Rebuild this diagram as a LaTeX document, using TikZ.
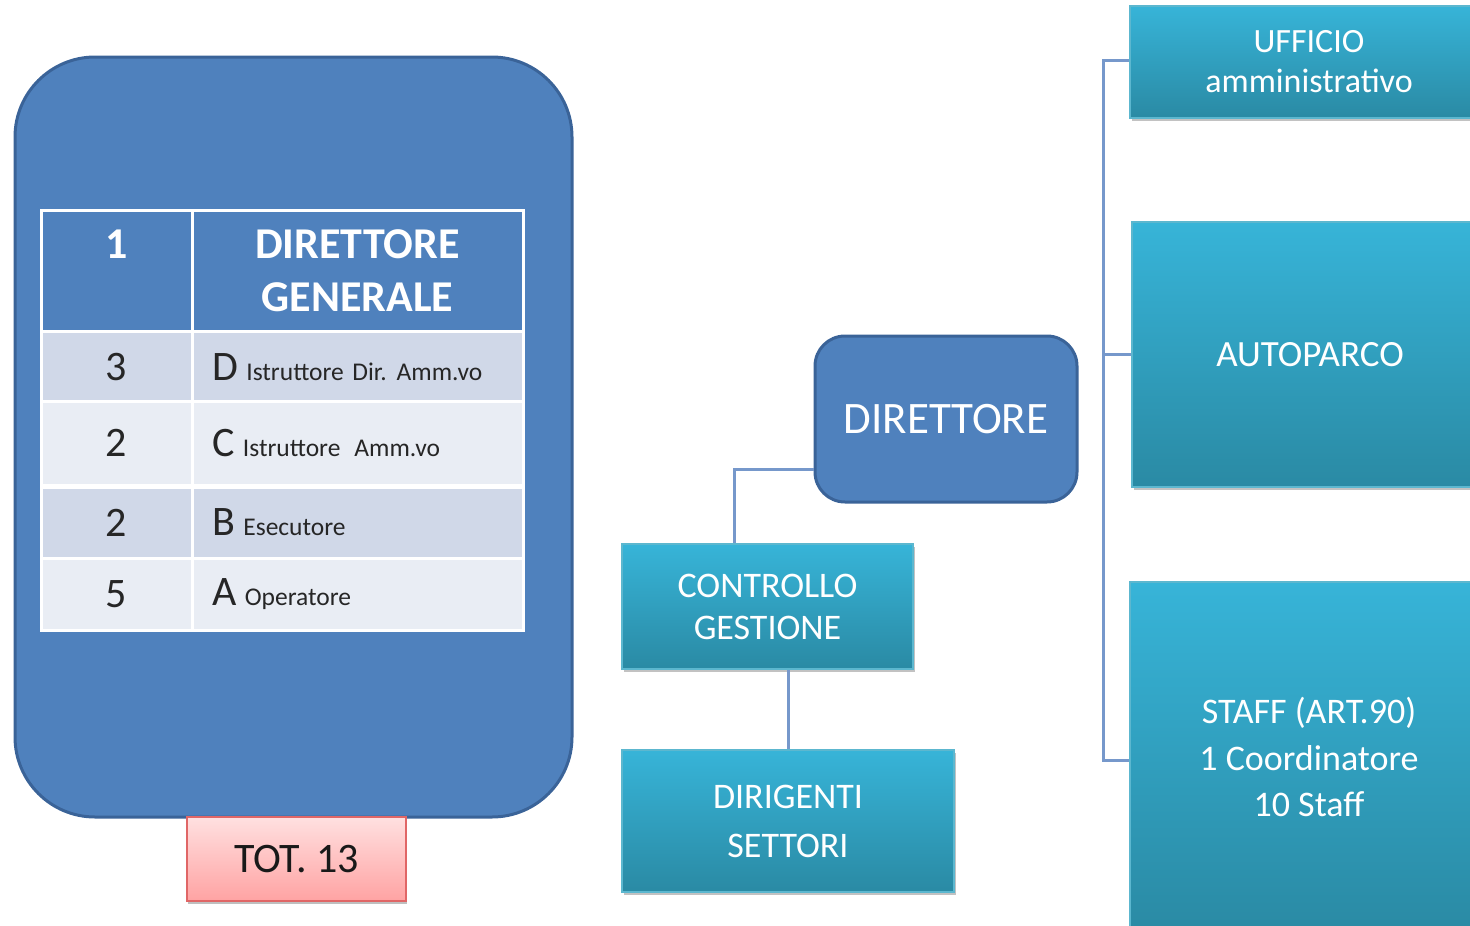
\documentclass[tikz,border=0pt]{standalone}
\usepackage{fontspec}
\setmainfont{Carlito}
\usetikzlibrary{shadows}
\definecolor{dblue}{HTML}{4F81BD}
\definecolor{dborder}{HTML}{3A6398}
\definecolor{rowdark}{HTML}{D0D8E8}
\definecolor{rowlight}{HTML}{E9EDF4}
\definecolor{tealtop}{HTML}{37B4D8}
\definecolor{tealbot}{HTML}{2A8AA4}
\definecolor{tealline}{HTML}{5CB7CF}
\definecolor{conn}{HTML}{7698CB}
\definecolor{pinktop}{HTML}{FFE0E0}
\definecolor{pinkbot}{HTML}{FFA3A3}
\definecolor{pinkline}{HTML}{E06666}
\newcommand{\fs}[2]{\fontsize{#1}{#2}\selectfont}
\begin{document}
\begin{tikzpicture}[x=1pt,y=-1pt,
  cell/.style={rectangle, draw=white, line width=3pt, inner sep=0pt},
  hdrcell/.style={cell, fill=dblue, text=white, font=\bfseries\fs{44}{53}, align=center, minimum height=122pt},
  numcell/.style={cell, minimum width=151pt, font=\fs{42}{42}, text=black!85},
  txtcell/.style={cell, minimum width=331pt, text width=331pt, align=left, font=\fs{25.5}{30}, text=black!85},
  tealbox/.style={rectangle, top color=tealtop, bottom color=tealbot, draw=tealline, line width=2pt, text=white, align=center, inner sep=0pt,
     drop shadow={shadow xshift=2pt, shadow yshift=-3pt, fill=black!40, opacity=0.6}},
  bluebox/.style={rectangle, draw=dborder, line width=3pt, fill=dblue},
  link/.style={draw=conn, line width=3pt}
]
\useasboundingbox (0,0) rectangle (1470,926);

% left panel
\node[bluebox, rounded corners=80pt, minimum width=557pt, minimum height=760pt] (bg) at (293.5,437) {};

\node[hdrcell, minimum width=151pt] (h1) at (116.5,271) {1\\\phantom{G}};
\node[hdrcell, minimum width=331pt] (h2) at (357.5,271) {DIRETTORE\\GENERALE};

\node[numcell, fill=rowdark, minimum height=72pt] (n1) at (116.5,367) {3};
\node[txtcell, fill=rowdark, minimum height=72pt] (t1) at (357.5,367) {\hspace*{20pt}{\fs{42}{42}D} Istruttore Dir.\hspace{10pt}Amm.vo};
\node[numcell, fill=rowlight, minimum height=84pt] (n2) at (116.5,443) {2};
\node[txtcell, fill=rowlight, minimum height=84pt] (t2) at (357.5,443) {\hspace*{20pt}{\fs{42}{42}C} Istruttore\hspace{14pt}Amm.vo};
\node[numcell, fill=rowdark, minimum height=71pt] (n3) at (116.5,522.5) {2};
\node[txtcell, fill=rowdark, minimum height=71pt] (t3) at (357.5,522.5) {\hspace*{20pt}{\fs{42}{42}B} Esecutore};
\node[numcell, fill=rowlight, minimum height=72pt] (n4) at (116.5,594) {5};
\node[txtcell, fill=rowlight, minimum height=72pt] (t4) at (357.5,594) {\hspace*{20pt}{\fs{42}{42}A} Operatore};

\node[rectangle, draw=pinkline, line width=2pt, top color=pinktop, bottom color=pinkbot, minimum width=219pt, minimum height=84pt,
  font=\fs{42}{42}, text=black!90, drop shadow={shadow xshift=1pt, shadow yshift=-3pt, fill=black!50, opacity=0.5}] (tot) at (296.5,859) {TOT. 13};

% org chart
\node[bluebox, rounded corners=30pt, minimum width=262pt, minimum height=166pt, text=white, font=\fs{45}{45}] (dir) at (946,419) {DIRETTORE};

\node[tealbox, minimum width=291pt, minimum height=125pt, font=\fs{36}{42}] (ctrl) at (767.5,606.5) {CONTROLLO\\GESTIONE};
\node[tealbox, minimum width=332pt, minimum height=142pt, font=\fs{36}{49}] (dirig) at (788,821) {DIRIGENTI\\SETTORI};

\node[tealbox, minimum width=358pt, minimum height=112pt, font=\fs{34}{40}] (uff) at (1309,62) {UFFICIO\\amministrativo};
\node[tealbox, minimum width=356pt, minimum height=265pt, font=\fs{37}{44}] (auto) at (1310,354.5) {AUTOPARCO};
\node[tealbox, minimum width=358pt, minimum height=350pt, font=\fs{36}{46.5}] (staff) at (1309,757) {STAFF (ART.90)\\1 Coordinatore\\10 Staff};

% connectors
\coordinate (c1) at (734,469);
\coordinate (c2) at (788,710);
\coordinate (k1) at (1103,60);
\coordinate (k2) at (1103,354);
\coordinate (k3) at (1103,760);
\draw[link] (dir.west |- c1) -- (c1) -- (ctrl.north -| c1);
\draw[link] (ctrl.south -| c2) -- (dirig.north -| c2);
\draw[link] (uff.west |- k1) -- (k1) -- (k3) -- (staff.west |- k3);
\draw[link] (k2) -- (auto.west |- k2);
\end{tikzpicture}
\end{document}
